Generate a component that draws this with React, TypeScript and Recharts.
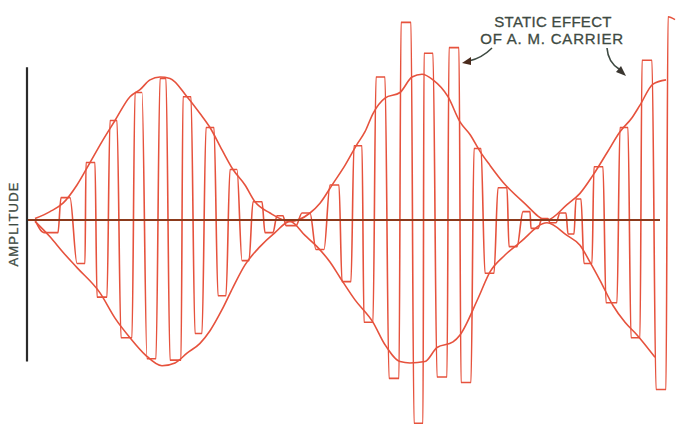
import { ComposedChart, Line, XAxis, YAxis, ReferenceLine } from 'recharts'

// time (ms) vs amplitude
const upperEnvelope: Array<[number, number]> = [
  [3.5, 1], [5.0, 6], [6.3, 12], [7.7, 25], [9.0, 41], [10.2, 56], [11.5, 71],
  [13.0, 88], [14.0, 93], [15.0, 100], [16.0, 102], [17.0, 101], [18.7, 88],
  [20.0, 76], [21.0, 66], [22.2, 50], [23.3, 36], [24.5, 25], [25.5, 13],
  [27.0, 5], [29.0, -1], [31.0, 5], [32.0, 12], [33.3, 26], [34.5, 39],
  [35.7, 54], [36.5, 63], [37.3, 76], [38.5, 87], [40.0, 91], [41.2, 102],
  [42.2, 104], [43.3, 100], [44.8, 88], [46.0, 70], [47.0, 61], [48.0, 49],
  [49.0, 39], [50.3, 27], [52.3, 13], [54.7, 0], [56.7, 11], [58.0, 19],
  [59.3, 32], [60.7, 48], [62.0, 63], [63.2, 73], [64.0, 82], [65.3, 97],
  [66.6, 100],
]

const lowerEnvelope: Array<[number, number]> = [
  [3.5, -1], [5.0, -12], [6.3, -23], [7.7, -34], [10.0, -52], [11.5, -70],
  [13.0, -84], [14.5, -96], [16.2, -104], [17.5, -102], [18.7, -95], [20.0, -88],
  [21.0, -79], [22.2, -64], [23.3, -48], [24.5, -32], [26.0, -19], [27.5, -9],
  [29.0, -1], [30.5, -11], [31.7, -19], [33.0, -30], [34.0, -41], [35.5, -57],
  [37.3, -73], [38.5, -89], [40.0, -101], [41.0, -102], [42.5, -101],
  [43.7, -91], [45.3, -87], [46.0, -82], [47.8, -56], [49.0, -37], [50.5, -25],
  [52.0, -16], [54.7, -2], [56.7, -11], [58.0, -18], [59.0, -30], [60.0, -43],
  [61.3, -61], [62.5, -73], [63.7, -82], [65.5, -98],
]

// carrier turning points (two per loop: left and right leg)
const carrier: Array<[number, number]> = [
  [3.5, 0],
  [4.4, -9], [5.8, -9], [6.1, 16], [7.0, 16], [7.7, -31], [8.5, -31],
  [8.6, 41], [9.5, 41], [9.7, -55], [10.7, -55], [11.0, 71], [11.7, 71],
  [12.1, -84], [13.2, -84], [13.5, 91], [14.2, 91], [14.7, -99], [15.6, -99],
  [16.0, 101], [16.6, 101], [17.0, -100], [18.1, -100], [18.3, 88], [19.1, 88],
  [19.5, -81], [20.2, -81], [20.6, 66], [21.4, 66], [21.8, -54], [22.6, -54],
  [23.0, 36], [23.7, 36], [24.2, -29], [24.9, -29], [25.3, 13], [26.2, 13],
  [26.5, -9], [27.3, -9], [27.7, 3], [28.3, 3], [28.6, -4], [29.6, -4],
  [30.2, 5], [31.0, 5], [31.6, -21], [32.4, -21], [33.0, 25], [33.9, 25],
  [34.2, -44], [35.1, -44], [35.4, 53], [36.2, 53], [36.4, -73], [37.3, -73],
  [37.6, 102], [38.5, 102], [38.9, -113], [39.9, -113], [40.1, 141], [41.1, 141],
  [41.4, -145], [42.3, -145], [42.4, 119], [43.3, 119], [43.7, -112], [44.7, -112],
  [44.9, 123], [45.9, 123], [46.1, -116], [47.1, -116], [47.4, 51], [48.1, 51],
  [48.5, -38], [49.4, -38], [49.8, 23], [50.7, 23], [50.9, -19], [51.7, -19],
  [52.3, 6], [53.0, 6], [53.1, -6], [53.8, -6], [54.2, 1], [54.8, 1],
  [55.0, -2], [55.6, -2], [56.0, 5], [56.6, 5], [56.8, -10], [57.4, -10],
  [57.6, 15], [58.1, 15], [58.4, -31], [59.2, -31], [59.4, 38], [60.3, 38],
  [60.6, -59], [61.7, -59], [62.0, 66], [62.8, 66], [63.1, -84], [64.0, -84],
  [64.2, 114], [65.2, 114], [65.6, -121], [66.6, -121], [66.8, 145], [67.5, 143],
]

const toPoints = (arr: Array<[number, number]>) => arr.map(([t, a]) => ({ t, a }))

const RED = '#e6523d'
const AXIS_BROWN = '#8b3a1c'
const TEXT = '#3e4a42'

export default function App() {
  return (
    <div style={{ position: 'absolute', left: 0, top: 0, width: 680, height: 426, background: '#fff' }}>
      <ComposedChart width={680} height={426} margin={{ top: 0, right: 0, bottom: 0, left: 0 }}>
        <XAxis type="number" dataKey="t" domain={[0, 68]} hide allowDataOverflow />
        <YAxis type="number" dataKey="a" domain={[-147, 157]} hide allowDataOverflow />
        <Line data={toPoints(upperEnvelope)} dataKey="a" type="monotone" dot={false} activeDot={false}
          stroke={RED} strokeWidth={1.6} isAnimationActive={false} />
        <Line data={toPoints(lowerEnvelope)} dataKey="a" type="monotone" dot={false} activeDot={false}
          stroke={RED} strokeWidth={1.6} isAnimationActive={false} />
        <Line data={toPoints(carrier)} dataKey="a" type="monotone" dot={false} activeDot={false}
          stroke={RED} strokeWidth={1.6} isAnimationActive={false} />
        <ReferenceLine segment={[{ x: 2.7, y: 109 }, { x: 2.7, y: -101 }]} stroke="#2b2b2b" strokeWidth={2.2} />
        <ReferenceLine segment={[{ x: 2.8, y: 0 }, { x: 66, y: 0 }]} stroke={AXIS_BROWN} strokeWidth={2.2} />
      </ComposedChart>
      <svg width={680} height={426} style={{ position: 'absolute', left: 0, top: 0, pointerEvents: 'none' }}>
        <text x={18} y={224} transform="rotate(-90 18 224)" textAnchor="middle"
          fontFamily="Liberation Sans, Arial, sans-serif" fontSize={13} letterSpacing={1.2}
          fill={TEXT} stroke={TEXT} strokeWidth={0.3}>
          AMPLITUDE
        </text>
        <text x={553} y={27} textAnchor="middle" fontFamily="Liberation Sans, Arial, sans-serif"
          fontSize={15} letterSpacing={0.3} fill={TEXT} stroke={TEXT} strokeWidth={0.3}>
          STATIC EFFECT
        </text>
        <text x={552} y={44} textAnchor="middle" fontFamily="Liberation Sans, Arial, sans-serif"
          fontSize={15} letterSpacing={0.8} fill={TEXT} stroke={TEXT} strokeWidth={0.3}>
          OF A. M. CARRIER
        </text>
        <path d="M492,48 Q482,58 469,61" fill="none" stroke={TEXT} strokeWidth={1.6} />
        <path d="M462,63 L471,57 L471,65 Z" fill="#4a2a1c" />
        <path d="M607,48 Q608,62 619,69" fill="none" stroke={TEXT} strokeWidth={1.6} />
        <path d="M626,76 L616,72 L621,66 Z" fill="#3a3630" />
      </svg>
    </div>
  )
}
